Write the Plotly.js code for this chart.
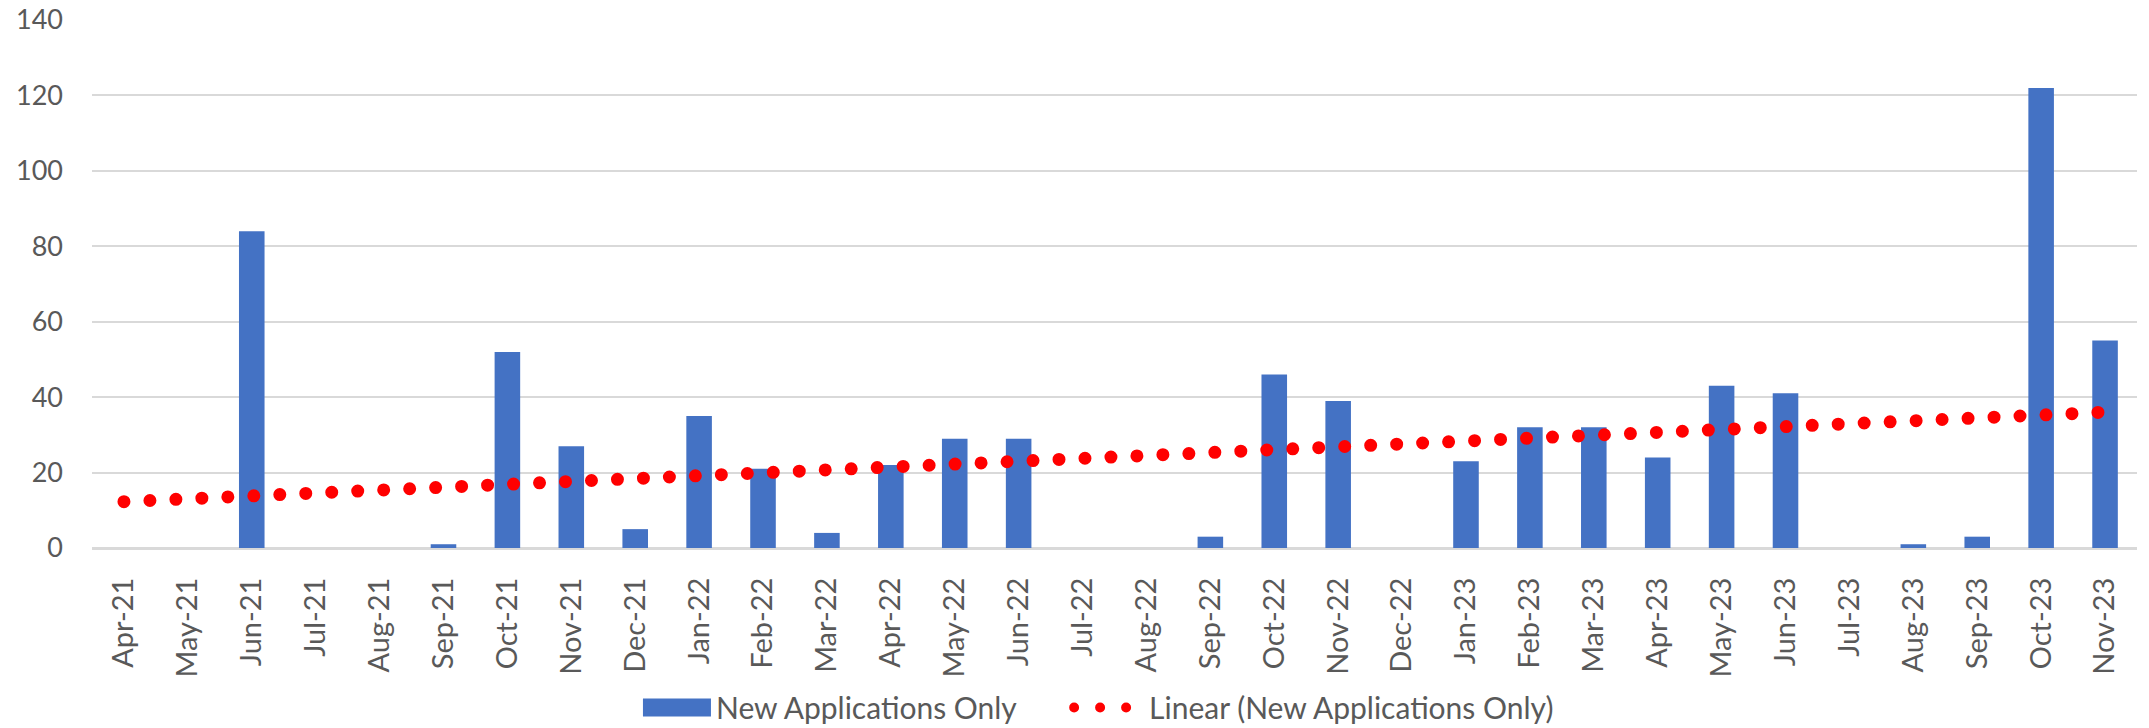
<!DOCTYPE html>
<html>
<head>
<meta charset="utf-8">
<script src="https://cdn.plot.ly/plotly-3.0.1.min.js"></script>
<style>
html,body{margin:0;padding:0;background:#fff;}
#chart{width:2149px;height:728px;}
.scatterlayer .js-line, .infolayer .js-line { stroke-linecap: round !important; }
</style>
</head>
<body>
<div id="chart"></div>
<script>
const months = ["Apr-21","May-21","Jun-21","Jul-21","Aug-21","Sep-21","Oct-21","Nov-21","Dec-21",
  "Jan-22","Feb-22","Mar-22","Apr-22","May-22","Jun-22","Jul-22","Aug-22","Sep-22","Oct-22","Nov-22","Dec-22",
  "Jan-23","Feb-23","Mar-23","Apr-23","May-23","Jun-23","Jul-23","Aug-23","Sep-23","Oct-23","Nov-23"];
const newApplications = [0,0,84,0,0,1,52,27,5,
  35,21,4,22,29,29,0,0,3,46,39,0,
  23,32,32,24,43,41,0,1,3,122,55];
const yTicks = [0,20,40,60,80,100,120,140];

// Linear (least-squares) trendline of the bar series, as Excel draws it
const n = newApplications.length;
let sx=0, sy=0, sxy=0, sxx=0;
newApplications.forEach((v,i)=>{const x=i+1; sx+=x; sy+=v; sxy+=x*v; sxx+=x*x;});
const slope = (n*sxy - sx*sy)/(n*sxx - sx*sx);
const intercept = (sy - slope*sx)/n;
const trend = newApplications.map((v,i)=> intercept + slope*(i+1));

const font = "Lato, 'Open Sans', 'Liberation Sans', sans-serif";
const grey = '#595959';
const data = [
  {type:'bar', x:months, y:newApplications, name:'New Applications Only', legend:'legend',
   marker:{color:'#4472C4', line:{width:0}}},
  {type:'scatter', mode:'lines', x:months, y:trend, name:'Linear (New Applications Only)', legend:'legend2',
   line:{color:'#FF0000', width:13, dash:'0px,26px'}}
];
const legendBase = {orientation:'h', xanchor:'left', y:-0.302, yanchor:'middle',
  font:{family:font, size:30, color:grey}, bgcolor:'rgba(0,0,0,0)', borderwidth:0};
const layout = {
  width:2149, height:728,
  margin:{l:92, r:12, t:20, b:180, autoexpand:false},
  paper_bgcolor:'#fff', plot_bgcolor:'#fff',
  font:{family:font, size:28, color:grey},
  bargap:0.6,
  showlegend:true,
  legend:Object.assign({}, legendBase, {x:0.2611, itemwidth:80}),
  legend2:Object.assign({}, legendBase, {x:0.4778, itemwidth:70}),
  xaxis:{type:'category', tickangle:-90, showgrid:false, zeroline:false,
         showline:true, linecolor:'#d9d9d9', linewidth:2, ticks:'', ticklabelstandoff:16,
         tickfont:{family:font, size:29, color:grey}, automargin:false},
  yaxis:{range:[0,140], tickvals:yTicks, ticktext:yTicks.map(String), showgrid:true,
         gridcolor:'#d9d9d9', gridwidth:2, zeroline:true, zerolinecolor:'#d9d9d9', zerolinewidth:2,
         showline:false, ticks:'', ticklabelstandoff:28, automargin:false,
         tickfont:{family:font, size:27, color:grey}}
};
function widenSwatch(gd){
  // widen the bar legend swatch to Excel's wide rectangle
  gd.querySelectorAll('.infolayer path').forEach(p=>{
    const d = (p.getAttribute('d')||'').replace(/\s/g,'');
    if (d === 'M6,6H-6V-6H6Z') p.setAttribute('d','M40,9H-28V-9H40Z');
  });
}
Plotly.newPlot('chart', data, layout, {displayModeBar:false, staticPlot:true}).then(gd=>{
  widenSwatch(gd);
  gd.on('plotly_afterplot', ()=>widenSwatch(gd));
  setTimeout(()=>widenSwatch(gd), 50);
});
</script>
</body>
</html>
